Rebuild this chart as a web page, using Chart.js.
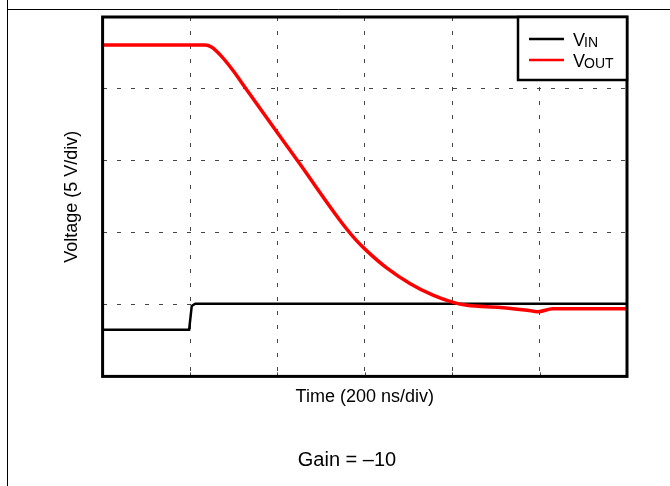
<!DOCTYPE html>
<html lang="en">
<head>
<meta charset="utf-8" />
<script src="https://cdn.jsdelivr.net/npm/chart.js@4.4.1/dist/chart.umd.min.js"></script>
<style>
    html, body { margin: 0; padding: 0; background: #fff; }
</style>
<title>Gain = -10</title>
</head>
<body>
<canvas id="grafico" width="670" height="486"></canvas>
<script>
const vinTiempo = [0, 0.99, 1.02, 1.06, 6];
const vinVoltaje = [0.65, 0.65, 0.98, 1.01, 1.01];

const voutTiempo = [0, 1.17, 1.25, 1.34, 1.49, 1.63, 1.80, 2.26, 2.71, 2.89, 3.02, 3.25, 3.52, 3.78, 4.01, 4.17, 4.55, 4.86, 4.98, 5.15, 5.54, 6];
const voutVoltaje = [4.61, 4.61, 4.58, 4.48, 4.26, 4.02, 3.73, 2.95, 2.18, 1.91, 1.75, 1.51, 1.29, 1.13, 1.03, 0.99, 0.96, 0.92, 0.90, 0.94, 0.94, 0.94];

const tituloX = "Time (200 ns/div)";
const tituloY = "Voltage (5 V/div)";
const ganancia = "Gain = \u201310";

const puntos = (xs, ys) => xs.map((x, i) => ({ x: x, y: ys[i] }));
const fuente = "'Liberation Sans', Arial, sans-serif";

// marco, leyenda con subindices y texto de ganancia
const extras = {
    id: "extras",
    afterDraw(chart) {
        const ctx = chart.ctx;
        const a = chart.chartArea;
        const sx = chart.scales.x;
        ctx.save();
        // bordes de la pagina
        ctx.strokeStyle = "#000";
        ctx.lineWidth = 1;
        ctx.beginPath();
        ctx.moveTo(7.5, 0); ctx.lineTo(7.5, 486);
        ctx.moveTo(7, 9.5); ctx.lineTo(670, 9.5);
        ctx.stroke();
        // marcas inferiores
        ctx.strokeStyle = "#444";
        ctx.lineWidth = 1;
        for (let i = 1; i < 6; i++) {
            const px = Math.round(sx.getPixelForValue(i)) + 0.5;
            ctx.beginPath();
            ctx.moveTo(px, a.bottom - 4); ctx.lineTo(px, a.bottom);
            ctx.stroke();
        }
        // marco
        ctx.strokeStyle = "#000";
        ctx.lineWidth = 3;
        ctx.strokeRect(a.left, a.top, a.right - a.left, a.bottom - a.top);
        // leyenda
        const lx = 518, ly = a.top, lw = a.right - lx, lh = 63;
        ctx.fillStyle = "#fff";
        ctx.fillRect(lx, ly, lw, lh);
        ctx.lineWidth = 2.5;
        ctx.strokeRect(lx, ly, lw, lh);
        const entradas = [
            { sub: "IN", color: "#000", y: 39 },
            { sub: "OUT", color: "#ff0000", y: 60 }
        ];
        entradas.forEach((e) => {
            ctx.strokeStyle = e.color;
            ctx.lineWidth = 2.5;
            ctx.beginPath();
            ctx.moveTo(529, e.y); ctx.lineTo(564, e.y);
            ctx.stroke();
            ctx.fillStyle = "#000";
            ctx.textBaseline = "alphabetic";
            ctx.textAlign = "left";
            ctx.font = "18px " + fuente;
            ctx.fillText("V", 573, e.y + 7);
            const w = ctx.measureText("V").width;
            ctx.font = "14px " + fuente;
            ctx.fillText(e.sub, 572 + w, e.y + 8);
        });
        // ganancia
        ctx.fillStyle = "#000";
        ctx.font = "20px " + fuente;
        ctx.textAlign = "center";
        ctx.textBaseline = "middle";
        ctx.fillText(ganancia, 347, 460);
        ctx.restore();
    }
};

new Chart(document.getElementById("grafico").getContext("2d"), {
    type: "line",
    data: {
        datasets: [
            { label: "VOUT", data: puntos(voutTiempo, voutVoltaje), borderColor: "#ff0000", borderWidth: 3.5, pointRadius: 0, cubicInterpolationMode: "monotone" },
            { label: "VIN", data: puntos(vinTiempo, vinVoltaje), borderColor: "#000", borderWidth: 2.5, pointRadius: 0, tension: 0 }
        ]
    },
    options: {
        responsive: false,
        animation: false,
        layout: { padding: { left: 10, right: 43, top: 17, bottom: 78 } },
        plugins: { legend: { display: false }, tooltip: { enabled: false } },
        scales: {
            x: {
                type: "linear", min: 0, max: 6,
                ticks: { display: false, stepSize: 1 },
                grid: { color: "#444", drawTicks: false, lineWidth: 1 },
                border: { display: false, dash: [4, 10] },
                title: { display: true, text: tituloX, color: "#000", font: { family: fuente, size: 18 }, padding: { top: 10, bottom: 0 } }
            },
            y: {
                min: 0, max: 5,
                ticks: { display: false, stepSize: 1 },
                grid: { color: "#444", drawTicks: false, lineWidth: 1 },
                border: { display: false, dash: [4, 10] },
                title: { display: true, text: tituloY, color: "#000", font: { family: fuente, size: 18 }, padding: { top: 51, bottom: 20 } }
            }
        }
    },
    plugins: [extras]
});
</script>
</body>
</html>
